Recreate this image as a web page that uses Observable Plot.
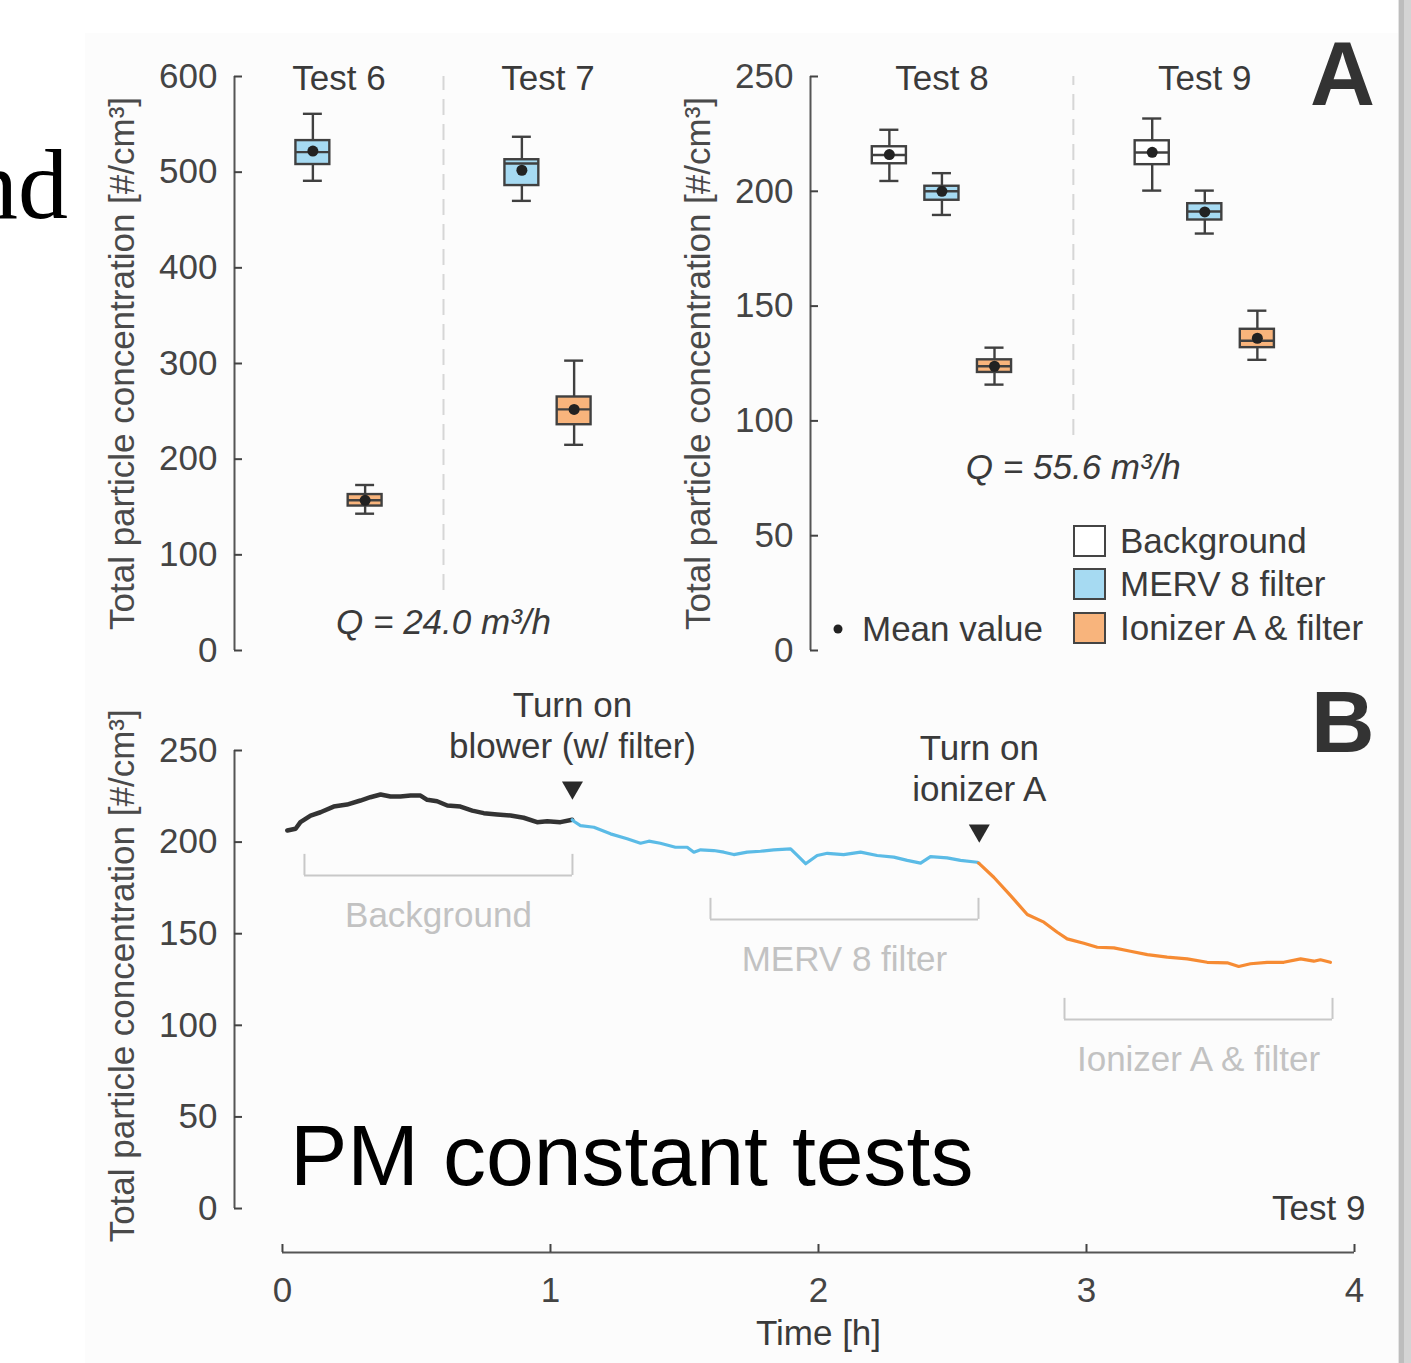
<!DOCTYPE html>
<html><head><meta charset="utf-8">
<script src="https://cdn.jsdelivr.net/npm/d3@7"></script>
<script src="https://cdn.jsdelivr.net/npm/@observablehq/plot@0.6"></script>
<style>
html,body{margin:0;padding:0;background:#fff;overflow:hidden;}
#fig{position:relative;width:1411px;height:1363px;}
#fig > svg{position:absolute;left:0;top:0;}
.abs{position:absolute;}
</style></head><body><div id="fig">
<div class="abs" style="left:85px;top:33px;width:1313px;height:1330px;background:#fcfcfc"></div>
<div class="abs" style="left:1398px;top:0;width:1px;height:1363px;background:#e4e4e4"></div>
<div class="abs" style="left:1399px;top:0;width:5px;height:1363px;background:#bdbdbd"></div>
<div class="abs" style="left:1404px;top:0;width:7px;height:1363px;background:#d4d4d4"></div>
</div>
<script>
const FONT = "'Liberation Sans', Arial, Helvetica, sans-serif";
const INK = "#3a3a3a";

// ---------- Panel A data ----------
const seriesNames = ["Background", "MERV 8 filter", "Ionizer A & filter"];
const seriesFill = ["#ffffff", "#a6daf2", "#f8b47c"];

// low-flow tests (Q = 24.0 m3/h)
const lowTests = ["Test 6", "Test 7"];
const lowTest = ["Test 6", "Test 6", "Test 7", "Test 7"];
const lowSeries = ["MERV 8 filter", "Ionizer A & filter", "MERV 8 filter", "Ionizer A & filter"];
const lowWhiskerLo = [491, 143, 470, 215];
const lowQ1 = [508, 151, 486, 236];
const lowMedian = [521, 157, 509, 252];
const lowQ3 = [533, 163, 513, 265];
const lowWhiskerHi = [561, 173, 537, 303];
const lowMean = [522, 157, 502, 252];
const lowTicks = [0, 100, 200, 300, 400, 500, 600];

// high-flow tests (Q = 55.6 m3/h)
const highTests = ["Test 8", "Test 9"];
const highTest = ["Test 8", "Test 8", "Test 8", "Test 9", "Test 9", "Test 9"];
const highSeries = ["Background", "MERV 8 filter", "Ionizer A & filter", "Background", "MERV 8 filter", "Ionizer A & filter"];
const highWhiskerLo = [204.5, 189.7, 115.8, 200.3, 181.6, 126.6];
const highQ1 = [212.0, 196.1, 121.1, 211.6, 187.5, 131.9];
const highMedian = [215.8, 200.0, 123.8, 216.9, 191.2, 134.9];
const highQ3 = [219.4, 202.2, 126.6, 222.0, 194.6, 139.9];
const highWhiskerHi = [226.8, 207.9, 131.9, 231.7, 200.3, 148.0];
const highMean = [216.0, 200.0, 123.8, 217.0, 191.0, 136.0];
const highTicks = [0, 50, 100, 150, 200, 250];

// ---------- Panel B data (Test 9 time series) [time h, concentration] ----------
const backgroundLine = [[0.018,206.3],[0.049,207.3],[0.067,210.9],[0.105,214.5],[0.142,216.3],[0.191,219.4],[0.241,220.5],[0.291,222.7],[0.328,224.5],[0.366,226.0],[0.403,224.9],[0.440,224.9],[0.478,225.4],[0.515,225.4],[0.540,223.1],[0.577,222.3],[0.615,220.0],[0.664,219.4],[0.708,217.2],[0.751,215.8],[0.801,215.1],[0.851,214.5],[0.900,213.3],[0.950,210.9],[0.988,211.4],[1.037,210.9],[1.081,212.2]];
const mervLine = [[1.081,212.2],[1.087,211.4],[1.112,209.0],[1.162,208.1],[1.224,204.5],[1.286,201.8],[1.336,199.4],[1.367,200.5],[1.410,199.4],[1.466,197.2],[1.510,197.2],[1.535,194.5],[1.560,195.8],[1.609,195.4],[1.647,194.5],[1.684,193.2],[1.734,194.5],[1.784,195.0],[1.833,195.8],[1.896,196.3],[1.921,192.7],[1.952,188.2],[1.995,192.7],[2.033,193.9],[2.094,193.2],[2.157,194.5],[2.219,192.7],[2.281,191.8],[2.331,190.0],[2.381,188.5],[2.418,192.1],[2.480,191.4],[2.530,190.0],[2.592,189.0],[2.598,188.5]];
const ionizerLine = [[2.598,188.5],[2.654,180.8],[2.716,170.9],[2.779,160.5],[2.841,156.3],[2.891,150.8],[2.928,147.2],[2.990,144.8],[3.040,142.6],[3.102,142.3],[3.164,140.4],[3.227,138.6],[3.301,137.2],[3.376,136.3],[3.450,134.4],[3.525,134.1],[3.568,132.1],[3.612,133.6],[3.674,134.4],[3.736,134.4],[3.799,136.3],[3.848,135.0],[3.873,135.8],[3.910,134.4]];
const lineColors = ["#333333", "#5bbbe6", "#f68b33"];
const bTicksY = [0, 50, 100, 150, 200, 250];
const bTicksX = [0, 1, 2, 3, 4];

const phaseNames = ["Background", "MERV 8 filter", "Ionizer A & filter"];
const phaseStart = [0.082, 1.597, 2.918];
const phaseEnd = [1.082, 2.597, 3.918];
const phaseLevel = [181.8, 157.8, 103.2];

const eventTime = [1.082, 2.6];
const eventLevel = [229.8, 206.3];
const eventText = ["Turn on\nblower (w/ filter)", "Turn on\nionizer A"];

const yLabel = "Total particle concentration [#/cm³]";

// ---------- helpers ----------
const fig = document.getElementById("fig");
const baseStyle = {background: "transparent", fontFamily: FONT, overflow: "visible"};

function boxPanel({tests, test, series, wlo, q1, med, q3, whi, mean, stride, shift, ticks, xDomain, marginLeft, marginRight, sepBottom, qText, qY}) {
  const rows = test.map((t, i) => ({
    x: tests.indexOf(t) * stride + seriesNames.indexOf(series[i]) + shift,
    series: series[i], wlo: wlo[i], q1: q1[i], med: med[i], q3: q3[i], whi: whi[i], mean: mean[i]
  }));
  const groups = tests.map(t => {
    const xs = rows.filter((r, i) => test[i] === t).map(r => r.x);
    return {name: t, x: d3.mean(xs), lo: d3.min(xs), hi: d3.max(xs)};
  });
  const sep = (groups[0].hi + groups[1].lo) / 2;
  const yDomain = [ticks[0], ticks[ticks.length - 1]];
  const hw = 17 / 52.4, cap = 9.5 / 52.4;
  const sk = {stroke: "#404040", strokeWidth: 2.4};
  return Plot.plot({
    width: 1411, height: 1363, marginLeft, marginRight, marginTop: 76, marginBottom: 713,
    x: {domain: xDomain, axis: null},
    y: {domain: yDomain, axis: null},
    color: {domain: seriesNames, range: seriesFill},
    style: baseStyle,
    marks: [
      Plot.ruleX([sep], {y1: sepBottom, y2: yDomain[1], stroke: "#d6d6d6", strokeWidth: 2, strokeDasharray: "16,9"}),
      Plot.ruleX([xDomain[0]], {y1: yDomain[0], y2: yDomain[1], stroke: "#555", strokeWidth: 2}),
      Plot.axisY({ticks, tickSize: -8, tickPadding: 25, fontSize: 35, color: "#444", strokeWidth: 2, label: null}),
      Plot.text([yLabel], {x: xDomain[0], y: (yDomain[0] + yDomain[1]) / 2, dx: -112, rotate: -90, textAnchor: "middle", lineAnchor: "middle", fontSize: 35, fill: "#4a4a4a"}),
      Plot.ruleX(rows, {x: "x", y1: "wlo", y2: "q1", ...sk}),
      Plot.ruleX(rows, {x: "x", y1: "q3", y2: "whi", ...sk}),
      Plot.ruleY(rows, {y: "wlo", x1: d => d.x - cap, x2: d => d.x + cap, ...sk}),
      Plot.ruleY(rows, {y: "whi", x1: d => d.x - cap, x2: d => d.x + cap, ...sk}),
      Plot.rect(rows, {x1: d => d.x - hw, x2: d => d.x + hw, y1: "q1", y2: "q3", fill: "series", ...sk}),
      Plot.ruleY(rows, {y: "med", x1: d => d.x - hw, x2: d => d.x + hw, ...sk}),
      Plot.dot(rows, {x: "x", y: "mean", r: 5.5, fill: "#222", stroke: null}),
      Plot.text(groups, {x: "x", y: yDomain[1], text: "name", dy: 2, fontSize: 35, fill: INK}),
      Plot.text([qText], {x: sep, y: qY, fontSize: 35, fontStyle: "italic", fill: INK})
    ]
  });
}

const pLow = boxPanel({
  tests: lowTests, test: lowTest, series: lowSeries,
  wlo: lowWhiskerLo, q1: lowQ1, med: lowMedian, q3: lowQ3, whi: lowWhiskerHi, mean: lowMean,
  stride: 4, shift: 0, ticks: lowTicks, xDomain: [-0.5, 7.5], marginLeft: 234, marginRight: 1411 - 652,
  sepBottom: 62.7, qText: "Q = 24.0 m³/h", qY: 29.3
});
const pHigh = boxPanel({
  tests: highTests, test: highTest, series: highSeries,
  wlo: highWhiskerLo, q1: highQ1, med: highMedian, q3: highQ3, whi: highWhiskerHi, mean: highMean,
  stride: 5, shift: 0, ticks: highTicks, xDomain: [-1.5, 9], marginLeft: 810, marginRight: 1411 - 1362,
  sepBottom: 93.6, qText: "Q = 55.6 m³/h", qY: 79.7
});

// ---------- Panel B ----------
const xB = [-0.179, 4];
const yB = [-24, 250];
const phases = phaseNames.map((n, i) => ({name: n, start: phaseStart[i], end: phaseEnd[i], level: phaseLevel[i], mid: (phaseStart[i] + phaseEnd[i]) / 2}));
const events = eventTime.map((t, i) => ({t, level: eventLevel[i], text: eventText[i]}));
const grey = {stroke: "#c8c8c8", strokeWidth: 2};
const pB = Plot.plot({
  width: 1411, height: 1363, marginLeft: 234, marginRight: 57, marginTop: 750, marginBottom: 111,
  x: {domain: xB, axis: null},
  y: {domain: yB, axis: null},
  style: baseStyle,
  marks: [
    Plot.ruleX([xB[0]], {y1: 0, y2: 250, stroke: "#555", strokeWidth: 2}),
    Plot.axisY({ticks: bTicksY, tickSize: -8, tickPadding: 25, fontSize: 35, color: "#444", strokeWidth: 2, label: null}),
    Plot.text([yLabel], {x: xB[0], y: 127, dx: -112, rotate: -90, textAnchor: "middle", lineAnchor: "middle", fontSize: 35, fill: "#4a4a4a"}),
    Plot.ruleY([yB[0]], {x1: bTicksX[0], x2: bTicksX[bTicksX.length - 1], stroke: "#555", strokeWidth: 2}),
    Plot.axisX({ticks: bTicksX, tickFormat: d => String(d), tickSize: -8, tickPadding: 33, fontSize: 35, color: "#444", strokeWidth: 2, label: null}),
    Plot.text(["Time [h]"], {x: 2, y: yB[0], dy: 81, lineAnchor: "middle", fontSize: 35, fill: INK}),
    // brackets
    Plot.ruleY(phases, {y: "level", x1: "start", x2: "end", ...grey}),
    Plot.ruleX(phases, {x: "start", y1: "level", y2: d => d.level + 11.5, ...grey}),
    Plot.ruleX(phases, {x: "end", y1: "level", y2: d => d.level + 11.5, ...grey}),
    Plot.text(phases, {x: "mid", y: "level", text: "name", dy: 40, fontSize: 35, fill: "#c2c2c2"}),
    // lines
    Plot.line(backgroundLine, {x: d => d[0], y: d => d[1], stroke: lineColors[0], strokeWidth: 4.5}),
    Plot.line(mervLine, {x: d => d[0], y: d => d[1], stroke: lineColors[1], strokeWidth: 3.2}),
    Plot.line(ionizerLine, {x: d => d[0], y: d => d[1], stroke: lineColors[2], strokeWidth: 3.2}),
    // events
    Plot.dot(events, {x: "t", y: "level", symbol: "triangle", rotate: 180, r: 7.8, fill: "#2a2a2a", stroke: null}),
    Plot.text(events, {x: "t", y: "level", text: "text", dy: -63, lineHeight: 1.17, fontSize: 35, fill: INK}),
    Plot.text(["Test 9"], {x: 4, y: 0, dx: 11, textAnchor: "end", fontSize: 35, fill: INK})
  ]
});

fig.append(pLow, pHigh, pB);

// ---------- overlay: legend, panel letters, stray texts ----------
const ov = d3.select(fig).append("svg").attr("width", 1411).attr("height", 1363).style("font-family", FONT);
const legY = [541, 584, 628];
seriesNames.forEach((n, i) => {
  ov.append("rect").attr("x", 1074).attr("y", legY[i] - 15).attr("width", 31).attr("height", 30)
    .attr("fill", seriesFill[i]).attr("stroke", "#444").attr("stroke-width", 2);
  ov.append("text").attr("x", 1120).attr("y", legY[i]).attr("dy", "0.35em").attr("font-size", 35).attr("fill", INK).text(n);
});
ov.append("circle").attr("cx", 838).attr("cy", 629).attr("r", 4.5).attr("fill", "#222");
ov.append("text").attr("x", 862).attr("y", 629).attr("dy", "0.35em").attr("font-size", 35).attr("fill", INK).text("Mean value");
ov.append("text").attr("x", 1310).attr("y", 105).attr("font-size", 90).attr("font-weight", "bold").attr("fill", "#333").text("A");
ov.append("text").attr("x", 1311).attr("y", 752).attr("font-size", 88).attr("font-weight", "bold").attr("fill", "#333").text("B");
ov.append("text").attr("x", 290).attr("y", 1185).attr("font-size", 86).attr("fill", "#000").text("PM constant tests");
ov.append("text").attr("x", 68).attr("y", 218).attr("text-anchor", "end").attr("font-size", 100)
  .attr("font-family", "'Liberation Serif', 'Times New Roman', serif").attr("fill", "#000").text("nd");
</script></body></html>
